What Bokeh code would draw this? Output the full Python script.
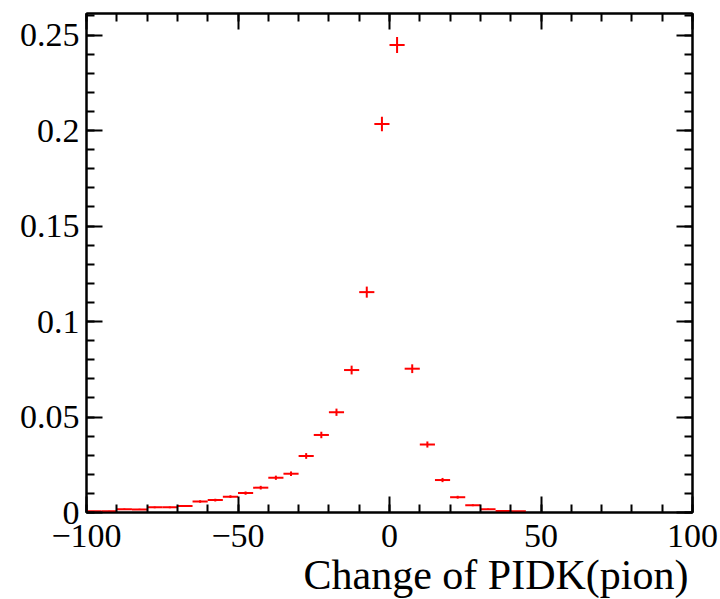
from bokeh.plotting import figure
from bokeh.models import (LinearAxis, SingleIntervalTicker, CustomJSTickFormatter,
                          ColumnDataSource, Range1d, Title)
from bokeh.embed import file_html
from bokeh.resources import INLINE

# ---- data ----
bin_width = 5.0
bin_centers = [-97.5, -92.5, -87.5, -82.5, -77.5, -72.5, -67.5, -62.5, -57.5, -52.5,
               -47.5, -42.5, -37.5, -32.5, -27.5, -22.5, -17.5, -12.5, -7.5, -2.5,
               2.5, 7.5, 12.5, 17.5, 22.5, 27.5, 32.5, 37.5, 42.5]
values = [0.0006, 0.0007, 0.0017, 0.0016, 0.0027, 0.0027, 0.0034, 0.0058, 0.0065, 0.0083,
          0.0102, 0.0130, 0.0182, 0.0203, 0.0296, 0.0406, 0.0525, 0.0746, 0.1154, 0.2034,
          0.2448, 0.0753, 0.0356, 0.0170, 0.0080, 0.0038, 0.0017, 0.0008, 0.0006]
errors = [0.0002, 0.0002, 0.00035, 0.00034, 0.00044, 0.00044, 0.0005, 0.00065, 0.0007, 0.00077,
          0.00085, 0.00096, 0.0011, 0.0012, 0.0015, 0.0017, 0.0019, 0.0023, 0.0029, 0.0038,
          0.0042, 0.0023, 0.0016, 0.0011, 0.00075, 0.0005, 0.00035, 0.00024, 0.0002]
x_title = "Change of PIDK(pion)"

src = ColumnDataSource(dict(
    x=bin_centers,
    y=values,
    x0=[c - bin_width / 2 for c in bin_centers],
    x1=[c + bin_width / 2 for c in bin_centers],
    ylo=[v - e for v, e in zip(values, errors)],
    yhi=[v + e for v, e in zip(values, errors)],
))

FONT = "Liberation Serif"
RED = "#ff0000"

p = figure(width=720, height=599, x_range=Range1d(-100, 100), y_range=Range1d(0, 0.2613),
           output_backend="svg", toolbar_location=None,
           min_border_left=86, min_border_right=28, min_border_top=13, min_border_bottom=87)
p.grid.visible = False
p.background_fill_color = "white"
p.border_fill_color = "white"
p.outline_line_color = "black"
p.outline_line_width = 2

# horizontal bin-width bars and vertical error bars
p.segment(x0="x0", x1="x1", y0="y", y1="y", source=src, line_color=RED, line_width=2)
p.segment(x0="x", x1="x", y0="ylo", y1="yhi", source=src, line_color=RED, line_width=2)

xfmt = CustomJSTickFormatter(code="return tick < 0 ? '\\u2212' + Math.abs(Math.round(tick)) : String(Math.round(tick));")
yfmt = CustomJSTickFormatter(code="return String(Math.round(tick*100)/100);")
blank = CustomJSTickFormatter(code="return '';")


def style(ax, labels=True, standoff=6):
    ax.axis_line_color = "black"
    ax.axis_line_width = 2
    ax.major_tick_in = 16
    ax.major_tick_out = 0
    ax.minor_tick_in = 8
    ax.minor_tick_out = 0
    ax.major_tick_line_width = 2
    ax.minor_tick_line_width = 2
    ax.major_tick_line_color = "black"
    ax.minor_tick_line_color = "black"
    if labels:
        ax.major_label_text_font = FONT
        ax.major_label_text_font_size = "34px"
        ax.major_label_text_color = "black"
        ax.major_label_standoff = standoff
    else:
        ax.formatter = blank
        ax.major_label_text_font_size = "1px"
        ax.major_label_standoff = 0


xa = p.xaxis[0]
xa.ticker = SingleIntervalTicker(interval=50, num_minor_ticks=5)
xa.formatter = xfmt
style(xa, standoff=12)
ya = p.yaxis[0]
ya.ticker = SingleIntervalTicker(interval=0.05, num_minor_ticks=5)
ya.formatter = yfmt
style(ya, standoff=7)

top = LinearAxis(ticker=SingleIntervalTicker(interval=50, num_minor_ticks=5))
style(top, labels=False)
p.add_layout(top, "above")
right = LinearAxis(ticker=SingleIntervalTicker(interval=0.05, num_minor_ticks=5))
style(right, labels=False)
p.add_layout(right, "right")

# x-axis title, right-aligned under the frame
ttl = Title(text=x_title, align="right", text_font=FONT, text_font_size="42px",
            text_font_style="normal", text_color="black", standoff=0, offset=4)
p.add_layout(ttl, "below")

open("out.html", "w").write(file_html(p, INLINE))
